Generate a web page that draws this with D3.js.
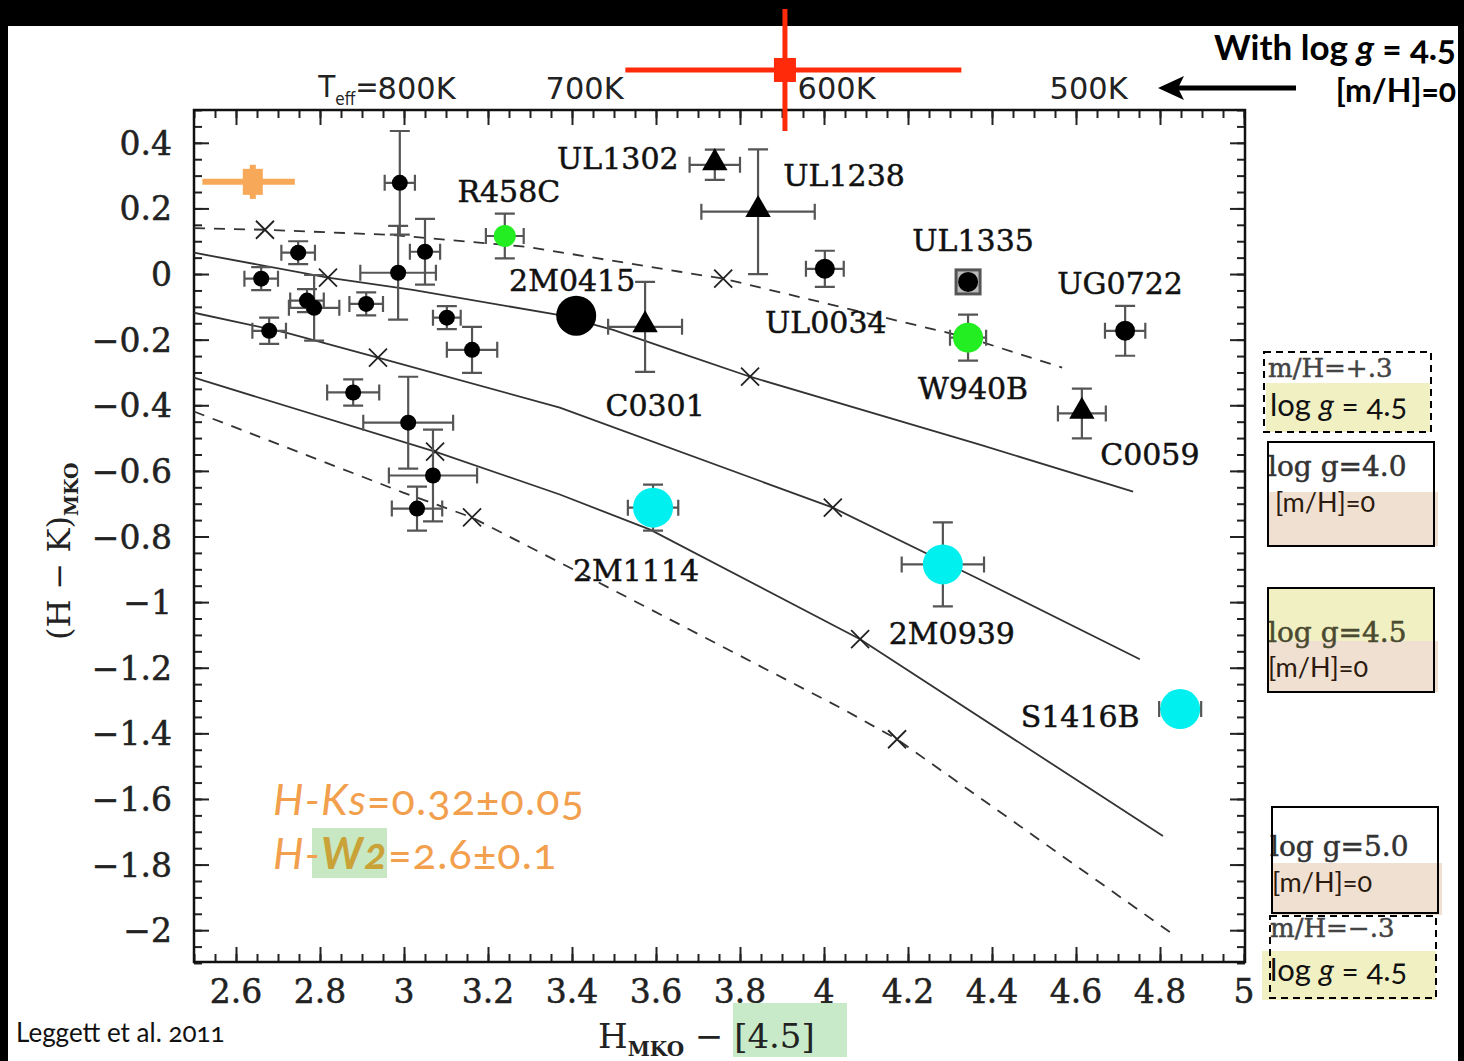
<!DOCTYPE html>
<html>
<head>
<meta charset="utf-8">
<script src="https://cdn.jsdelivr.net/npm/d3@7"></script>
<style>
  body { margin: 0; background: #000; }
  svg { display: block; }
  .os { font-feature-settings: "onum" 1; font-variant-numeric: oldstyle-nums; }
  .heavy { stroke: currentColor; stroke-width: 0.5px; }
</style>
</head>
<body>
<script>
var width = 1464,
    height = 1061;

// axis ticks
var xTicks = [2.6, 2.8, 3, 3.2, 3.4, 3.6, 3.8, 4, 4.2, 4.4, 4.6, 4.8, 5];
var yTicks = [0.4, 0.2, 0, -0.2, -0.4, -0.6, -0.8, -1, -1.2, -1.4, -1.6, -1.8, -2];
var teffLabels = ["800K", "700K", "600K", "500K"];
var teffAt = [3.03, 3.43, 4.03, 4.63];

// model sequences  [H-[4.5], H-K]
var mhPlus3 = [[2.5, 0.14], [2.669, 0.135], [2.974, 0.119], [3.293, 0.083], [3.657, 0.007], [3.76, -0.014], [4.343, -0.194], [4.567, -0.285]];
var logg40 = [[2.5, 0.065], [2.819, -0.011], [3.021, -0.048], [3.364, -0.124], [3.498, -0.17], [3.657, -0.24], [3.824, -0.313], [4.371, -0.52], [4.736, -0.663]];
var logg45 = [[2.5, -0.118], [2.721, -0.179], [2.938, -0.255], [3.371, -0.407], [4.021, -0.712], [4.371, -0.931], [4.752, -1.174]];
var logg50 = [[2.5, -0.316], [3.074, -0.541], [3.371, -0.672], [3.586, -0.779], [4.086, -1.113], [4.807, -1.713]];
var mhMinus3 = [[2.5, -0.419], [2.998, -0.666], [3.162, -0.742], [3.436, -0.922], [4.045, -1.326], [4.174, -1.418], [4.836, -2.017]];

// Teff markers on the models
var crossX = [2.669, 3.76, 2.819, 3.824, 2.938, 4.021, 3.074, 4.086, 3.162, 4.174];
var crossY = [0.135, -0.014, -0.011, -0.313, -0.255, -0.712, -0.541, -1.113, -0.742, -1.418];

// unlabeled field dwarfs  [x, y, xerr, yerr]
var fieldDots = [
  [2.99, 0.278, 0.036, 0.158],
  [2.986, 0.004, 0.09, 0.143],
  [3.05, 0.068, 0.036, 0.1],
  [2.748, 0.065, 0.04, 0.035],
  [2.66, -0.014, 0.04, 0.035],
  [2.769, -0.081, 0.04, 0.035],
  [2.786, -0.103, 0.06, 0.1],
  [2.91, -0.091, 0.04, 0.035],
  [2.679, -0.173, 0.04, 0.04],
  [3.102, -0.133, 0.033, 0.035],
  [3.162, -0.231, 0.06, 0.07],
  [2.879, -0.361, 0.062, 0.04],
  [3.01, -0.453, 0.107, 0.14],
  [3.069, -0.614, 0.105, 0.14],
  [3.031, -0.715, 0.06, 0.067]
];

// named objects
var triNames = ["UL1302", "UL1238", "C0301", "C0059"];
var triX = [3.74, 3.843, 3.574, 4.614];
var triY = [0.333, 0.19, -0.161, -0.425];
var triXe = [0.06, 0.135, 0.088, 0.057];
var triYe = [0.046, 0.19, 0.137, 0.076];

var blackNames = ["UL0034", "UG0722"];
var blackX = [4.002, 4.717];
var blackY = [0.016, -0.173];
var blackXe = [0.045, 0.048];
var blackYe = [0.055, 0.076];

var greenNames = ["R458C", "W940B"];
var greenX = [3.24, 4.343];
var greenY = [0.116, -0.194];
var greenXe = [0.045, 0.043];
var greenYe = [0.068, 0.07];

var cyanNames = ["2M1114", "2M0939", "S1416B"];
var cyanX = [3.593, 4.283, 4.848];
var cyanY = [-0.712, -0.885, -1.326];
var cyanXe = [0.06, 0.098, 0.05];
var cyanYe = [0.07, 0.128, 0];

var bigName = "2M0415", bigX = 3.41, bigY = -0.127;
var sqName = "UL1335", sqX = 4.343, sqY = -0.024;

// the two hand-placed estimates  [x, y, x-err low, x-err high, y-err]
var orangePt = [2.64, 0.281, 0.12, 0.1, 0.052];
var redPt = [3.907, 0.622, 0.38, 0.42, 0.186];

// label placement (px offset of label from its point)
var labelOffset = {
  "UL1302": [-97, 4], "R458C": [4, -34], "UL1238": [86, -26], "UL1335": [5, -31],
  "UG0722": [-5, -37], "2M0415": [-4, -25], "UL0034": [1, 64], "C0301": [10, 89],
  "W940B": [5, 61], "C0059": [68, 52], "2M1114": [-17, 73], "2M0939": [9, 80],
  "S1416B": [-100, 18]
};

var x = d3.scaleLinear().domain([2.5, 5]).range([194, 1244]);
var y = d3.scaleLinear().domain([-2.1, 0.5]).range([963, 110]);

var svg = d3.select("body").append("svg")
    .attr("width", width)
    .attr("height", height);

// slide
svg.append("rect").attr("width", width).attr("height", height).attr("fill", "#000");
svg.append("rect").attr("x", 8).attr("y", 26).attr("width", 1450).attr("height", height - 26).attr("fill", "#fff");

var serif = "'DejaVu Serif', 'Liberation Serif', serif";
var sans = "Lato, 'Open Sans', 'Noto Sans', sans-serif";

// ---- axes (ticks inward on all sides)
var x0 = 194, x1 = 1245, y0 = 110, y1 = 962;
var minorX = d3.range(2.5, 5.001, 0.05);
var minorY = d3.range(-2.1, 0.5001, 0.05);
var majorX = d3.range(2.6, 5.001, 0.2);

function axisSet(axisFn, scale, pos, transform) {
  svg.append("g").attr("transform", transform)
    .call(axisFn(scale).tickValues(pos.minor).tickSize(pos.minorLen).tickFormat(""))
    .call(function(g) { g.select(".domain").remove(); });
  svg.append("g").attr("transform", transform)
    .call(axisFn(scale).tickValues(pos.major).tickSize(pos.majorLen).tickFormat(""))
    .call(function(g) { g.select(".domain").remove(); });
}
axisSet(d3.axisBottom, x, {minor: minorX, major: majorX, minorLen: -8, majorLen: -15}, "translate(0," + y1 + ")");
axisSet(d3.axisTop, x, {minor: minorX, major: majorX, minorLen: -8, majorLen: -15}, "translate(0," + y0 + ")");
axisSet(d3.axisLeft, y, {minor: minorY, major: yTicks, minorLen: -8, majorLen: -15}, "translate(" + x0 + ",0)");
axisSet(d3.axisRight, y, {minor: minorY, major: yTicks, minorLen: -8, majorLen: -15}, "translate(" + x1 + ",0)");
svg.selectAll(".tick line").attr("stroke", "#222").attr("stroke-width", 2);

svg.append("rect").attr("x", x0).attr("y", y0).attr("width", x1 - x0).attr("height", y1 - y0)
  .attr("fill", "none").attr("stroke", "#111").attr("stroke-width", 2.5);

// tick labels
svg.append("g").selectAll("text").data(xTicks).enter().append("text")
  .attr("class", "heavy")
  .attr("x", function(d) { return x(d); }).attr("y", 1003)
  .attr("text-anchor", "middle").attr("font-family", serif).attr("font-size", 33).attr("fill", "#222").style("color", "#222")
  .text(function(d) { return d3.format("")(d); });
svg.append("g").selectAll("text").data(yTicks).enter().append("text")
  .attr("class", "heavy")
  .attr("x", 172).attr("y", function(d) { return y(d) + 12; })
  .attr("text-anchor", "end").attr("font-family", serif).attr("font-size", 33).attr("fill", "#222").style("color", "#222")
  .text(function(d) { return d3.format("")(d); });

// axis titles
svg.append("rect").attr("x", 733).attr("y", 1003).attr("width", 114).attr("height", 54).attr("fill", "#c8eac8");
var xt = svg.append("text").attr("x", 598).attr("y", 1048).attr("font-family", serif).attr("font-size", 34).attr("fill", "#222");
xt.append("tspan").text("H");
xt.append("tspan").attr("font-size", 20).attr("dy", 8).attr("font-weight", "bold").text("MKO");
xt.append("tspan").attr("dy", -8).text(" − [4.5]");

var yt = svg.append("text").attr("transform", "translate(70,640) rotate(-90)")
  .attr("font-family", serif).attr("font-size", 32).attr("fill", "#222");
yt.append("tspan").text("(H − K)");
yt.append("tspan").attr("font-size", 19).attr("dy", 8).attr("font-weight", "bold").text("MKO");

// top Teff labels
var condensed = "'DejaVu Sans Condensed', 'Liberation Sans Narrow', sans-serif";
svg.append("text").attr("x", x(teffAt[0]) - 38).attr("y", 97).attr("text-anchor", "end")
  .attr("font-family", condensed).attr("font-size", 31).attr("fill", "#222")
  .call(function(t) {
    t.append("tspan").text("T");
    t.append("tspan").attr("font-size", 17).attr("dy", 8).text("eff");
    t.append("tspan").attr("dy", -8).text("=");
  });
svg.append("g").selectAll("text").data(teffLabels).enter().append("text")
  .attr("x", function(d, i) { return x(teffAt[i]); }).attr("y", 99)
  .attr("text-anchor", "middle")
  .attr("font-family", condensed)
  .attr("font-size", 31).attr("fill", "#222")
  .attr("textLength", 78).attr("lengthAdjust", "spacingAndGlyphs")
  .text(function(d) { return d; });

// ---- model lines
var line = d3.line().x(function(d) { return x(d[0]); }).y(function(d) { return y(d[1]); });
var plot = svg.append("g");
[[mhPlus3, true], [logg40, false], [logg45, false], [logg50, false], [mhMinus3, true]].forEach(function(m) {
  plot.append("path").datum(m[0]).attr("d", line)
    .attr("fill", "none").attr("stroke", "#333").attr("stroke-width", 1.8)
    .attr("stroke-dasharray", m[1] ? "11,9" : null);
});
plot.selectAll(".cross").data(crossX).enter().append("path")
  .attr("d", function(d, i) {
    var cx = x(d), cy = y(crossY[i]), s = 9;
    return "M" + (cx - s) + "," + (cy - s) + "L" + (cx + s) + "," + (cy + s) +
           "M" + (cx - s) + "," + (cy + s) + "L" + (cx + s) + "," + (cy - s);
  })
  .attr("stroke", "#222").attr("stroke-width", 1.8);

// ---- error bars
function errbar(g, px, py, xe, ye) {
  var cx = x(px), cy = y(py);
  var p = "";
  if (xe > 0) {
    var a = x(px - xe), b = x(px + xe);
    p += "M" + a + "," + cy + "H" + b + "M" + a + "," + (cy - 8) + "V" + (cy + 8) + "M" + b + "," + (cy - 8) + "V" + (cy + 8);
  }
  if (ye > 0) {
    var c = y(py + ye), e = y(py - ye);
    p += "M" + cx + "," + c + "V" + e + "M" + (cx - 10) + "," + c + "H" + (cx + 10) + "M" + (cx - 10) + "," + e + "H" + (cx + 10);
  }
  g.append("path").attr("d", p).attr("fill", "none").attr("stroke", "#555").attr("stroke-width", 2.2);
}

fieldDots.forEach(function(d) { errbar(plot, d[0], d[1], d[2], d[3]); });
triX.forEach(function(d, i) { errbar(plot, d, triY[i], triXe[i], triYe[i]); });
blackX.forEach(function(d, i) { errbar(plot, d, blackY[i], blackXe[i], blackYe[i]); });
greenX.forEach(function(d, i) { errbar(plot, d, greenY[i], greenXe[i], greenYe[i]); });
cyanX.forEach(function(d, i) { errbar(plot, d, cyanY[i], cyanXe[i], cyanYe[i]); });

// ---- markers
plot.selectAll(".fd").data(fieldDots).enter().append("circle")
  .attr("cx", function(d) { return x(d[0]); }).attr("cy", function(d) { return y(d[1]); })
  .attr("r", 8).attr("fill", "#000");
plot.selectAll(".bk").data(blackX).enter().append("circle")
  .attr("cx", function(d) { return x(d); }).attr("cy", function(d, i) { return y(blackY[i]); })
  .attr("r", 10).attr("fill", "#000");
plot.selectAll(".tri").data(triX).enter().append("path")
  .attr("d", d3.symbol(d3.symbolTriangle, 280))
  .attr("transform", function(d, i) { return "translate(" + x(d) + "," + (y(triY[i]) - 2) + ")"; })
  .attr("fill", "#000");
plot.append("rect").attr("x", x(sqX) - 12).attr("y", y(sqY) - 12).attr("width", 24).attr("height", 24)
  .attr("fill", "#bbb").attr("stroke", "#555").attr("stroke-width", 3);
plot.append("circle").attr("cx", x(sqX)).attr("cy", y(sqY)).attr("r", 10).attr("fill", "#000");
plot.append("circle").attr("cx", x(bigX)).attr("cy", y(bigY)).attr("r", 20).attr("fill", "#000");
plot.selectAll(".gr").data(greenX).enter().append("circle")
  .attr("cx", function(d) { return x(d); }).attr("cy", function(d, i) { return y(greenY[i]); })
  .attr("r", function(d, i) { return i === 0 ? 11 : 15; }).attr("fill", "#22ee22");
plot.selectAll(".cy").data(cyanX).enter().append("circle")
  .attr("cx", function(d) { return x(d); }).attr("cy", function(d, i) { return y(cyanY[i]); })
  .attr("r", 20).attr("fill", "#00f0f0");

// labels
var allNames = triNames.concat(blackNames, greenNames, cyanNames, [bigName, sqName]);
var allX = triX.concat(blackX, greenX, cyanX, [bigX, sqX]);
var allY = triY.concat(blackY, greenY, cyanY, [bigY, sqY]);
plot.selectAll(".lab").data(allNames).enter().append("text")
  .attr("class", "heavy").style("color", "#111")
  .attr("x", function(d, i) { return x(allX[i]) + labelOffset[d][0]; })
  .attr("y", function(d, i) { return y(allY[i]) + labelOffset[d][1]; })
  .attr("text-anchor", "middle").attr("font-family", serif).attr("font-size", 30).attr("fill", "#111")
  .text(function(d) { return d; });

// ---- overlaid estimates
function thickCross(d, color, lw, bw, bh) {
  var cx = x(d[0]), cy = y(d[1]);
  svg.append("line").attr("x1", x(d[0] - d[2])).attr("x2", x(d[0] + d[3])).attr("y1", cy).attr("y2", cy)
    .attr("stroke", color).attr("stroke-width", lw);
  svg.append("line").attr("x1", cx).attr("x2", cx).attr("y1", y(d[1] + d[4])).attr("y2", y(d[1] - d[4]))
    .attr("stroke", color).attr("stroke-width", lw);
  svg.append("rect").attr("x", cx - bw / 2).attr("y", cy - bh / 2).attr("width", bw).attr("height", bh).attr("fill", color);
}
thickCross(orangePt, "#f7a858", 6, 20, 26);
thickCross(redPt, "#ff2a0a", 5, 22, 24);

// orange annotation
var orange = "#f2a04e";
svg.append("rect").attr("x", 312).attr("y", 828).attr("width", 75).attr("height", 50).attr("fill", "#c7e8c2");
var a1 = svg.append("text").attr("class", "os").attr("x", 273).attr("y", 815).attr("font-family", sans)
  .attr("font-size", 43).attr("letter-spacing", 1.2).attr("fill", orange);
a1.append("tspan").attr("font-style", "italic").text("H-Ks");
a1.append("tspan").text("=0.32±0.05");
var a2 = svg.append("text").attr("class", "os").attr("x", 273).attr("y", 869).attr("font-family", sans)
  .attr("font-size", 43).attr("letter-spacing", 1.2).attr("fill", orange);
a2.append("tspan").attr("font-style", "italic").text("H-");
a2.append("tspan").attr("font-style", "italic").attr("font-weight", "bold").attr("fill", "#c9a238").text("W2");
a2.append("tspan").text("=2.6±0.1");

// top right note and arrow
svg.append("text").attr("class", "os").attr("x", 1456).attr("y", 60).attr("text-anchor", "end").attr("font-family", sans)
  .attr("font-weight", "bold").attr("font-size", 35).attr("fill", "#000")
  .call(function(t) {
    t.append("tspan").text("With log ");
    t.append("tspan").attr("font-style", "italic").text("g");
    t.append("tspan").text(" = 4.5");
  });
svg.append("text").attr("class", "os").attr("x", 1456).attr("y", 102).attr("text-anchor", "end").attr("font-family", sans)
  .attr("font-weight", "bold").attr("font-size", 32).attr("fill", "#000").text("[m/H]=0");
svg.append("line").attr("x1", 1296).attr("x2", 1172).attr("y1", 88).attr("y2", 88).attr("stroke", "#000").attr("stroke-width", 5);
svg.append("path").attr("d", "M1158,88 L1184,76 L1178,88 L1184,100 Z").attr("fill", "#000");

// ---- legend boxes
var yellow = "#f1f0c3", peach = "#f0e0d2";
function legendBox(bx, by, bw, bh, dashed) {
  svg.append("rect").attr("x", bx).attr("y", by).attr("width", bw).attr("height", bh)
    .attr("fill", "none").attr("stroke", "#000").attr("stroke-width", 2)
    .attr("stroke-dasharray", dashed ? "7,5" : null);
}
function serifText(tx, ty, str, color, fs) {
  svg.append("text").attr("class", "heavy").style("color", color || "#333")
    .attr("x", tx).attr("y", ty).attr("font-family", serif).attr("font-size", fs || 28)
    .attr("fill", color || "#333").text(str);
}
function mhText(tx, ty) {
  svg.append("text").attr("class", "os").attr("x", tx).attr("y", ty).attr("font-family", sans).attr("font-size", 27)
    .attr("fill", "#2b1a0e").text("[m/H]=0");
}
function loggText(tx, ty) {
  svg.append("text").attr("class", "os").attr("x", tx).attr("y", ty).attr("font-family", sans).attr("font-size", 31)
    .attr("fill", "#111")
    .call(function(t) {
      t.append("tspan").text("log ");
      t.append("tspan").attr("font-style", "italic").text("g");
      t.append("tspan").text(" = 4.5");
    });
}

// m/H = +0.3
svg.append("rect").attr("x", 1266).attr("y", 383).attr("width", 164).attr("height", 49).attr("fill", yellow);
serifText(1268, 377, "m/H=+.3", "#444", 26);
loggText(1270, 416);
legendBox(1264, 352, 167, 80, true);

// log g = 4.0
svg.append("rect").attr("x", 1268).attr("y", 492).attr("width", 170).attr("height", 54).attr("fill", peach);
serifText(1268, 476, "log  g=4.0");
mhText(1275, 512);
legendBox(1268, 442, 166, 104, false);

// log g = 4.5
svg.append("rect").attr("x", 1268).attr("y", 588).attr("width", 166).attr("height", 53).attr("fill", yellow);
svg.append("rect").attr("x", 1268).attr("y", 641).attr("width", 170).attr("height", 51).attr("fill", peach);
serifText(1268, 642, "log  g=4.5", "#4a4a30");
mhText(1268, 677);
legendBox(1268, 588, 166, 104, false);

// log g = 5.0
svg.append("rect").attr("x", 1272).attr("y", 863).attr("width", 170).attr("height", 52).attr("fill", peach);
serifText(1270, 856, "log  g=5.0");
mhText(1272, 892);
legendBox(1272, 807, 166, 106, false);

// m/H = -0.3
svg.append("rect").attr("x", 1262).attr("y", 951).attr("width", 174).attr("height", 49).attr("fill", yellow);
serifText(1270, 937, "m/H=−.3", "#444", 26);
loggText(1270, 981);
legendBox(1270, 916, 166, 82, true);

// credit
svg.append("text").attr("class", "os").attr("x", 16).attr("y", 1042).attr("font-family", sans).attr("font-size", 26)
  .attr("fill", "#111").text("Leggett et al. 2011");
</script>
</body>
</html>
